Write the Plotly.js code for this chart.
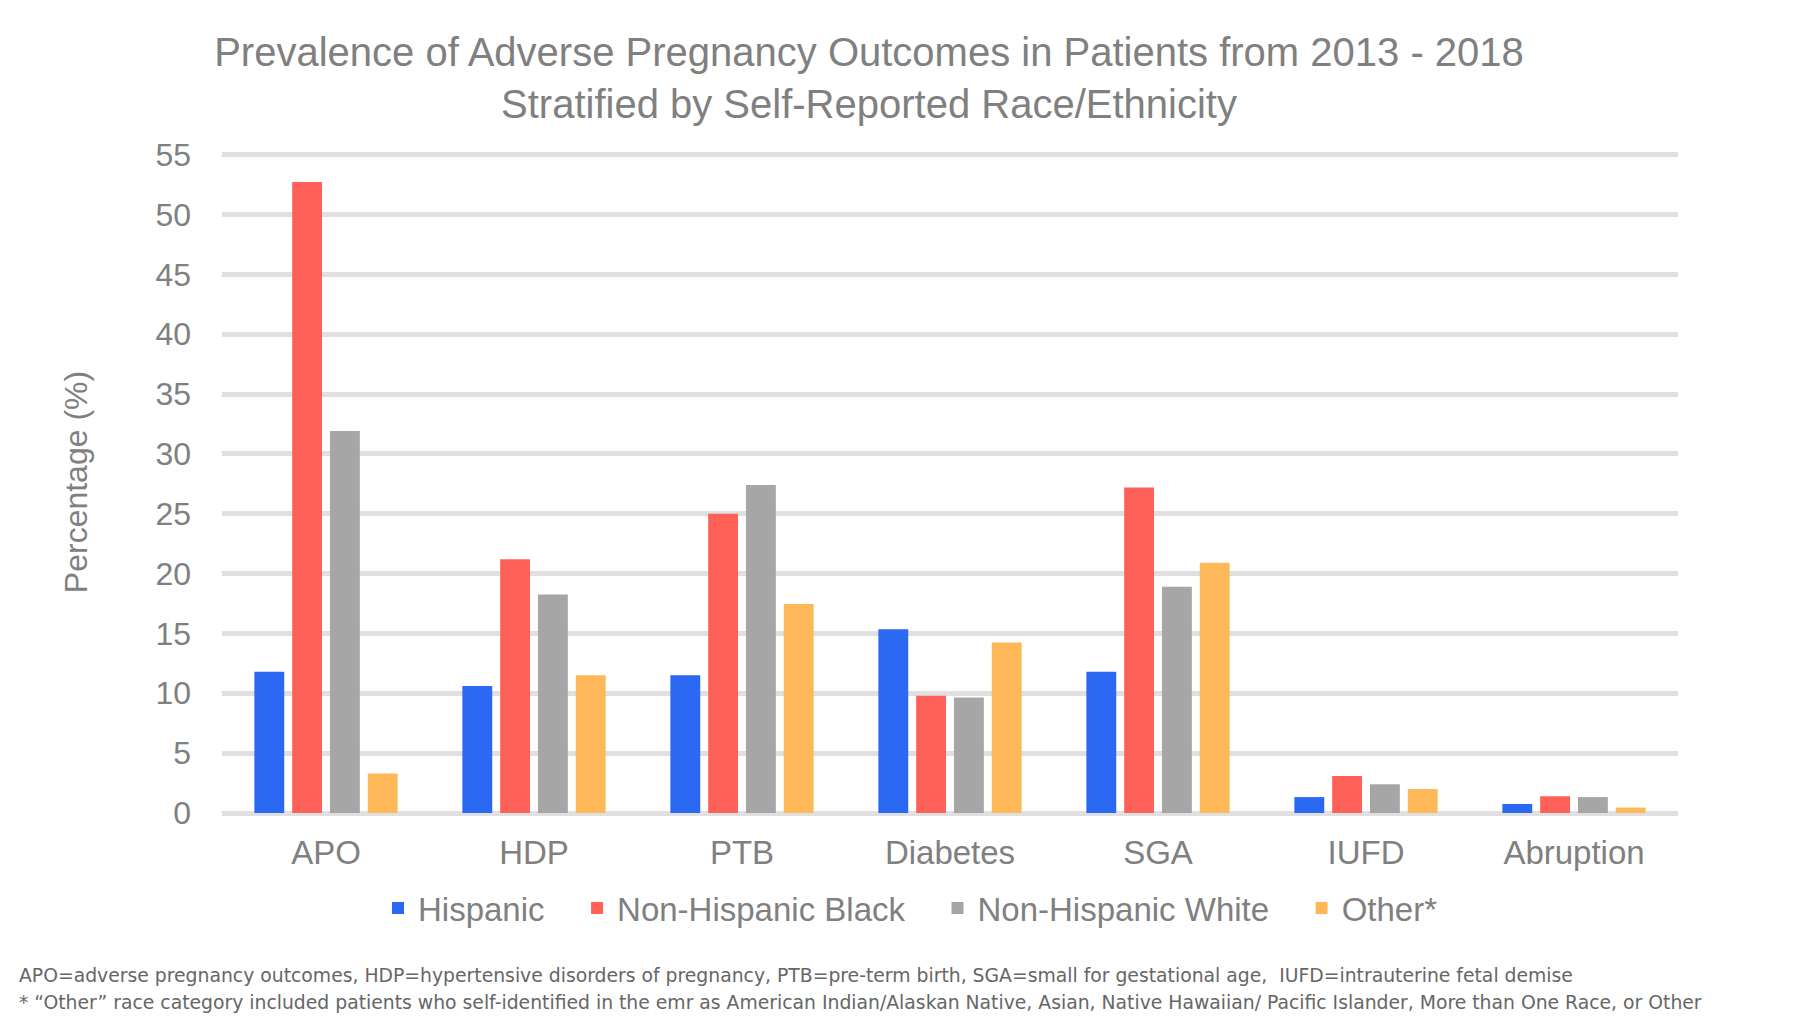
<!DOCTYPE html>
<html>
<head>
<meta charset="utf-8">
<script src="https://cdn.plot.ly/plotly-3.0.1.min.js"></script>
<style>
  html, body { margin: 0; padding: 0; background: #ffffff; }
  #chart { width: 1800px; height: 1020px; }
</style>
</head>
<body>
<div id="chart"></div>
<script>
const categories = ["APO", "HDP", "PTB", "Diabetes", "SGA", "IUFD", "Abruption"];
const hispanic = [11.8, 10.6, 11.5, 15.35, 11.8, 1.33, 0.75];
const nonHispanicBlack = [52.7, 21.2, 25.0, 9.8, 27.2, 3.1, 1.4];
const nonHispanicWhite = [31.9, 18.25, 27.4, 9.65, 18.9, 2.4, 1.33];
const other = [3.3, 11.5, 17.45, 14.25, 20.9, 2.0, 0.45];
const seriesNames = ["Hispanic", "Non-Hispanic Black", "Non-Hispanic White", "Other*"];
const yTicks = [0, 5, 10, 15, 20, 25, 30, 35, 40, 45, 50, 55];

const colors = ["#2b69f2", "#ff6159", "#a6a6a6", "#ffb857"];
const seriesValues = [hispanic, nonHispanicBlack, nonHispanicWhite, other];

const FONT = "Liberation Sans, Arial, sans-serif";
const GRAY = "#808080";

// plot area in pixels
const L = 222, R = 1678, TOP55 = 155, BOT = 813;
const YMAX = 55.3;
const pxPerUnit = (BOT - TOP55) / 55;
const T = TOP55 - (YMAX - 55) * pxPerUnit;
const PH = BOT - T, PW = R - L;
const py = (ypx) => (BOT - ypx) / PH;
const px = (xpx) => (xpx - L) / PW;

const traces = seriesValues.map((vals, i) => ({
  type: "bar",
  name: seriesNames[i] + "\u2002\u2004",
  x: categories,
  y: vals,
  marker: { color: colors[i], line: { width: 0 } },
  hoverinfo: "x+y+name"
}));

const layout = {
  width: 1800,
  height: 1020,
  paper_bgcolor: "#ffffff",
  plot_bgcolor: "#ffffff",
  margin: { l: L, r: 1800 - R, t: T, b: 1020 - BOT, pad: 0, autoexpand: false },
  barmode: "group",
  bargap: 0.273,
  bargroupgap: 0.21,
  title: {
    text: "Prevalence of Adverse Pregnancy Outcomes in Patients from 2013 - 2018<br>Stratified by Self-Reported Race/Ethnicity",
    font: { family: FONT, size: 40, color: GRAY },
    x: 869 / 1800,
    xanchor: "center",
    xref: "container",
    y: 1 - 66 / 1020,
    yanchor: "top",
    yref: "container",
    automargin: false
  },
  xaxis: {
    type: "category",
    showgrid: false,
    showline: false,
    zeroline: false,
    ticks: "",
    tickangle: 0,
    automargin: false,
    ticklabelstandoff: 17,
    tickfont: { family: FONT, size: 33, color: GRAY }
  },
  yaxis: {
    range: [0, YMAX],
    tickvals: yTicks,
    ticktext: yTicks.map(String),
    showgrid: true,
    gridcolor: "#e0e0e0",
    gridwidth: 5,
    zeroline: true,
    zerolinecolor: "#e0e0e0",
    zerolinewidth: 5,
    showline: false,
    ticks: "",
    automargin: false,
    ticklabelstandoff: 30,
    tickfont: { family: FONT, size: 32, color: GRAY },
    title: {
      text: "Percentage (%)",
      font: { family: FONT, size: 32, color: GRAY },
      standoff: 58
    }
  },
  legend: {
    orientation: "h",
    x: px(378),
    xref: "paper",
    xanchor: "left",
    y: py(908),
    yanchor: "middle",
    font: { family: FONT, size: 33, color: GRAY },
    itemwidth: 30,
    traceorder: "normal",
    bgcolor: "rgba(0,0,0,0)"
  },
  annotations: [
    {
      text: "APO=adverse pregnancy outcomes, HDP=hypertensive disorders of pregnancy, PTB=pre-term birth, SGA=small for gestational age,  IUFD=intrauterine fetal demise",
      xref: "paper", yref: "paper",
      x: px(17), xanchor: "left",
      y: py(975), yanchor: "middle",
      showarrow: false,
      align: "left",
      font: { family: "DejaVu Sans, sans-serif", size: 18.8, color: "#666666" }
    },
    {
      text: "* \u201cOther\u201d race category included patients who self-identified in the emr as American Indian/Alaskan Native, Asian, Native Hawaiian/ Pacific Islander, More than One Race, or Other",
      xref: "paper", yref: "paper",
      x: px(17), xanchor: "left",
      y: py(1002), yanchor: "middle",
      showarrow: false,
      align: "left",
      font: { family: "DejaVu Sans, sans-serif", size: 18.8, color: "#666666" }
    }
  ]
};

Plotly.newPlot("chart", traces, layout, { displayModeBar: false, staticPlot: true });
</script>
</body>
</html>
